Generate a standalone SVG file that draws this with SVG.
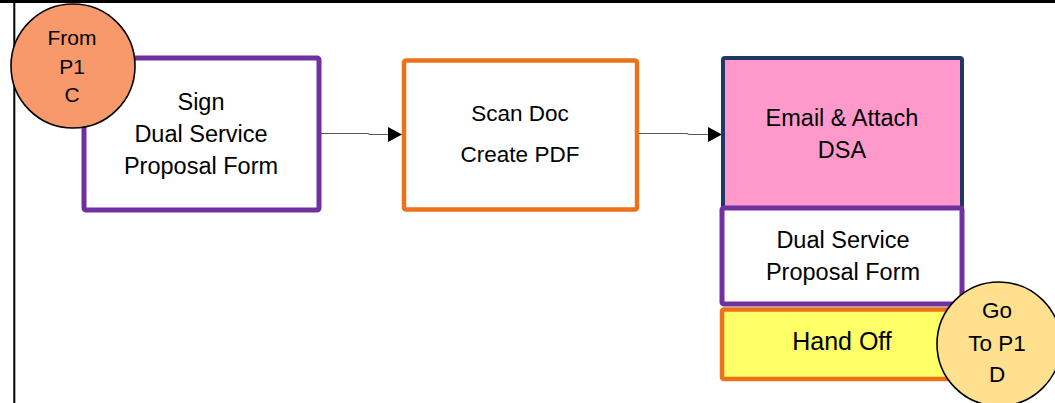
<svg xmlns="http://www.w3.org/2000/svg" width="1055" height="403" viewBox="0 0 1055 403">
  <style>
    .lbl { font-family: "Liberation Sans", Arial, sans-serif; fill: #000; text-anchor: middle; }
    .box { stroke-linejoin: round; }
    .purple { fill: #ffffff; stroke: #7030A0; stroke-width: 5; }
    .orange { stroke: #EC7118; stroke-width: 4.5; }
    .conn { fill: none; stroke: #595959; stroke-width: 1.2; }
  </style>
  <defs>
    <marker id="arrow" markerWidth="14" markerHeight="15" refX="14" refY="7.5" orient="auto" markerUnits="userSpaceOnUse">
      <path d="M0,0 L14,7.5 L0,15 Z" fill="#000"/>
    </marker>
  </defs>

  <rect x="0" y="0" width="1055" height="403" fill="#ffffff"/>

  <!-- lane frame -->
  <g id="lane">
    <line x1="0" y1="1.5" x2="1055" y2="1.5" stroke="#000" stroke-width="3"/>
    <line x1="14.3" y1="0" x2="14.3" y2="403" stroke="#000" stroke-width="2"/>
  </g>

  <!-- connectors -->
  <g id="connectors">
    <path class="conn" d="M319,133.5 H368 L370,134.5 H402" marker-end="url(#arrow)"/>
    <path class="conn" d="M639,133.5 H687 L689,134.5 H722" marker-end="url(#arrow)"/>
  </g>

  <g id="sign">
    <rect class="box purple" x="84" y="58" width="235" height="152" rx="2"/>
    <text class="lbl" font-size="23.5" x="201" y="110">Sign</text>
    <text class="lbl" font-size="23.5" x="201" y="142">Dual Service</text>
    <text class="lbl" font-size="23.5" x="201" y="174">Proposal Form</text>
  </g>

  <g id="scan">
    <rect class="box orange" x="404" y="60.5" width="233" height="149" rx="2" fill="#ffffff"/>
    <text class="lbl" font-size="22.5" x="520" y="121">Scan Doc</text>
    <text class="lbl" font-size="22.5" x="520" y="162">Create PDF</text>
  </g>

  <g id="email">
    <rect class="box" x="723" y="58" width="239" height="150" rx="2" fill="#FF99CC" stroke="#1F3864" stroke-width="4"/>
    <text class="lbl" font-size="23.5" x="842" y="126">Email &amp; Attach</text>
    <text class="lbl" font-size="23.5" x="842" y="158">DSA</text>
  </g>

  <g id="dual-form">
    <rect class="box purple" x="722" y="208" width="240" height="96" rx="2"/>
    <text class="lbl" font-size="23.5" x="843" y="248">Dual Service</text>
    <text class="lbl" font-size="23.5" x="843" y="280">Proposal Form</text>
  </g>

  <g id="hand-off">
    <rect class="box orange" x="722" y="309.5" width="240" height="69.5" rx="2" fill="#FFFF66"/>
    <text class="lbl" font-size="25" x="842" y="350">Hand Off</text>
  </g>

  <g id="from-p1-c">
    <circle cx="73" cy="66" r="62" fill="#F8996B" stroke="#000" stroke-width="1.6"/>
    <text class="lbl" font-size="21" x="72" y="45">From</text>
    <text class="lbl" font-size="21" x="72" y="74">P1</text>
    <text class="lbl" font-size="21" x="72" y="102">C</text>
  </g>

  <g id="go-to-p1-d">
    <circle cx="999" cy="344" r="62" fill="#FFE08F" stroke="#000" stroke-width="1.6"/>
    <text class="lbl" font-size="22.5" x="997" y="318">Go</text>
    <text class="lbl" font-size="22.5" x="997" y="351">To P1</text>
    <text class="lbl" font-size="22.5" x="997" y="382">D</text>
  </g>
</svg>
